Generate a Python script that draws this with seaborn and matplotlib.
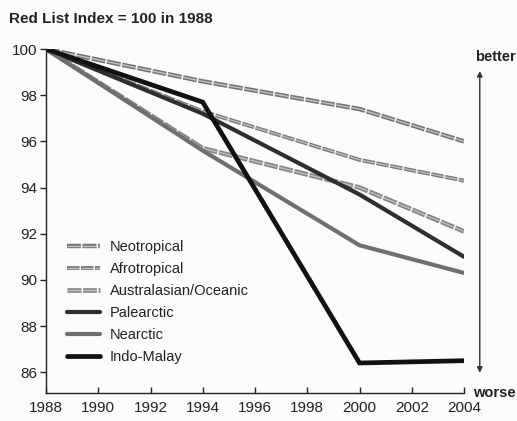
import matplotlib
matplotlib.use("Agg")
import matplotlib.pyplot as plt
import matplotlib.patheffects as pe
import seaborn as sns
import pandas as pd

years = [1988, 1994, 2000, 2004]
neotropical = [100, 98.6, 97.4, 96.0]
afrotropical = [100, 97.3, 95.2, 94.3]
australasian = [100, 95.7, 94.0, 92.1]
palearctic = [100, 97.2, 93.7, 91.0]
nearctic = [100, 95.6, 91.5, 90.3]
indomalay = [100, 97.7, 86.4, 86.5]
regions = ["Neotropical", "Afrotropical", "Australasian/Oceanic",
           "Palearctic", "Nearctic", "Indo-Malay"]
series = [neotropical, afrotropical, australasian, palearctic, nearctic, indomalay]
xticks = list(range(1988, 2005, 2))
yticks = [86, 88, 90, 92, 94, 96, 98, 100]

rows = []
for r, vals in zip(regions, series):
    for y, v in zip(years, vals):
        rows.append({"year": y, "index": v, "region": r})
df = pd.DataFrame(rows)

sns.set_theme(style="white")
plt.rcParams["font.family"] = ["Liberation Sans", "DejaVu Sans"]

fig = plt.figure(figsize=(5.17, 4.21), dpi=100)
fig.patch.set_facecolor("#fbfbfb")
ax = fig.add_axes([0.089, 0.0665, 0.8085, 0.817])
ax.set_facecolor("#fbfbfb")

styles = {
    "Neotropical": dict(color="#c4c4c4", lw=1.0, outer="#727272", ow=3.2),
    "Afrotropical": dict(color="#c2c2c2", lw=0.9, outer="#787878", ow=2.8),
    "Australasian/Oceanic": dict(color="#bebebe", lw=1.0, outer="#858585", ow=3.4),
    "Palearctic": dict(color="#2e2e2e", lw=3.0, outer=None, ow=0),
    "Nearctic": dict(color="#6f6f6f", lw=3.0, outer=None, ow=0),
    "Indo-Malay": dict(color="#111111", lw=3.4, outer=None, ow=0),
}
palette = {r: styles[r]["color"] for r in regions}
sns.lineplot(data=df, x="year", y="index", hue="region", hue_order=regions,
             palette=palette, ax=ax, legend=False, estimator=None)
for line, r in zip(ax.get_lines(), regions):
    s = styles[r]
    line.set_linewidth(s["lw"])
    line.set_solid_joinstyle("miter")
    if s["outer"]:
        line.set_linestyle((0, (10, 1.2)))
        line.set_path_effects([pe.Stroke(linewidth=s["ow"], foreground=s["outer"]),
                               pe.Normal()])
    line.set_label(r)

ax.set_xlim(1988, 2004)
ax.set_ylim(85.1, 100)
ax.set_xticks(xticks)
ax.set_yticks(yticks)
ax.set_xlabel("")
ax.set_ylabel("")
for sp in ["top", "right"]:
    ax.spines[sp].set_visible(False)
for sp in ["left", "bottom"]:
    ax.spines[sp].set_color("#222222")
    ax.spines[sp].set_linewidth(1.0)
ax.tick_params(axis="x", direction="in", length=4, width=1, colors="#222222",
               labelsize=11, pad=6, bottom=True)
ax.tick_params(axis="y", direction="out", length=4, width=1, colors="#222222",
               labelsize=11, pad=2, left=True)

handles = ax.get_lines()
leg = ax.legend(handles=handles, labels=regions, loc="lower left",
                bbox_to_anchor=(0.02, 0.045), frameon=False, fontsize=10.5,
                handlelength=2.2, handletextpad=0.7, labelspacing=0.55)
for t in leg.get_texts():
    t.set_color("#222222")

fig.text(0.018, 0.955, "Red List Index = 100 in 1988", fontsize=11,
         fontweight="bold", ha="left", va="center", color="#222222")
fig.text(0.997, 0.865, "better", fontsize=10.5, fontweight="bold",
         ha="right", va="center", color="#222222")
fig.text(0.997, 0.067, "worse", fontsize=10.5, fontweight="bold",
         ha="right", va="center", color="#222222")
fig.patches.append(matplotlib.patches.FancyArrowPatch(
    (0.928, 0.838), (0.928, 0.108), transform=fig.transFigure,
    arrowstyle="<|-|>", mutation_scale=8, color="#333333", lw=1.0))

fig.savefig("out.png", dpi=100, facecolor=fig.get_facecolor())
